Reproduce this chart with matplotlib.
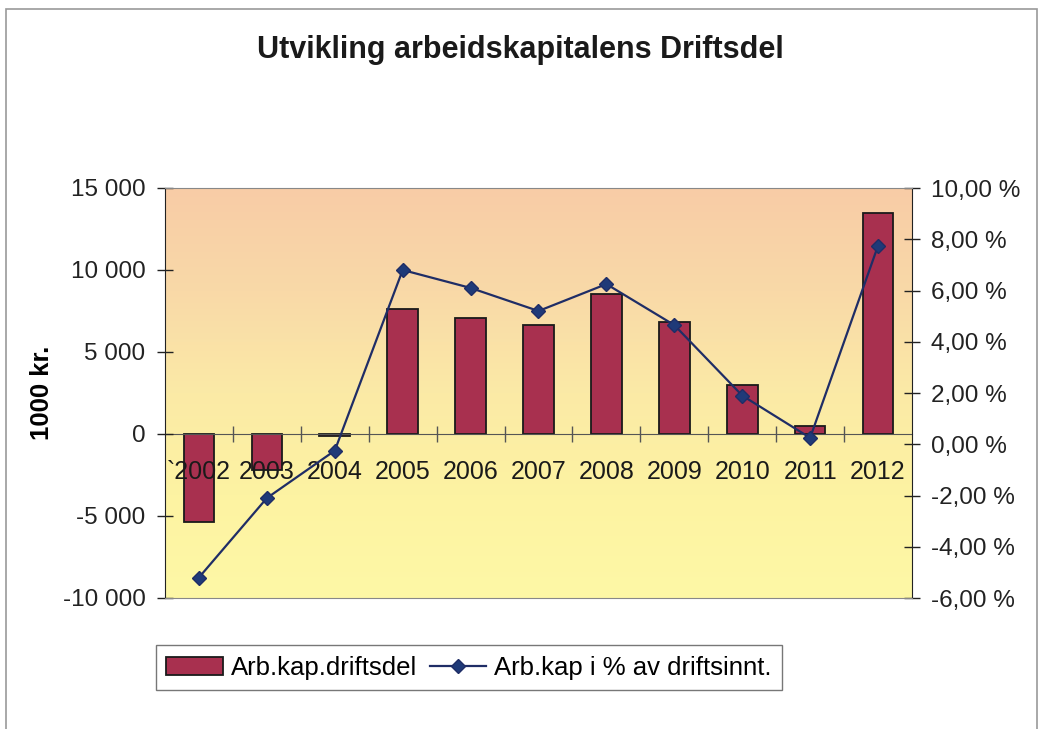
import numpy as np
import matplotlib
matplotlib.use('Agg')
from matplotlib import pyplot as plt
from matplotlib.patches import Rectangle
from matplotlib.lines import Line2D
from matplotlib.colors import LinearSegmentedColormap
from matplotlib.ticker import FuncFormatter

### Data
years = ['`2002', '2003', '2004', '2005', '2006', '2007', '2008', '2009', '2010', '2011', '2012']
arb_kap = [-5350, -2200, -100, 7600, 7100, 6650, 8550, 6850, 3000, 500, 13450]
arb_pct = [-5.2, -2.1, -0.25, 6.8, 6.1, 5.2, 6.25, 4.65, 1.9, 0.25, 7.75]

plt.rcParams['font.family'] = ['Liberation Sans', 'DejaVu Sans']

fig = plt.figure(figsize=(10.41, 7.29), dpi=100)
ax = fig.add_axes([165/1041, 1-598/729, (912-165)/1041, (598-188)/729])
ax2 = ax.twinx()

x = np.arange(len(years))

# Gradient background (peach at top -> yellow at bottom)
cmap = LinearSegmentedColormap.from_list('bg', ['#f8cca6', '#f9d9a8', '#fbeaa6', '#fdf3a2', '#fef8a6'])
grad = np.linspace(0, 1, 256).reshape(-1, 1)
ax.imshow(grad, cmap=cmap, aspect='auto', extent=[-0.5, 10.5, -10000, 15000],
          origin='upper', zorder=0, interpolation='bicubic')

# Bars
ax.bar(x, arb_kap, width=0.45, color='#a8304f', edgecolor='#1a1a1a', linewidth=1.3, zorder=2)
ax.set_axisbelow(False)
ax.set_xlim(-0.5, 10.5)
ax.set_ylim(-10000, 15000)
ax.set_yticks(np.arange(-10000, 15001, 5000))
ax.yaxis.set_major_formatter(FuncFormatter(lambda v, p: '{:,.0f}'.format(v).replace(',', ' ')))
ax.tick_params(axis='y', labelsize=17.5, direction='inout', length=12, width=1, pad=8, colors='#222222')
ax.set_ylabel('1000 kr.', fontsize=18.5, fontweight='bold', labelpad=6)

# Category axis at zero
ax.spines['bottom'].set_position(('data', 0))
ax.spines['bottom'].set_color('#555555')
ax.spines['top'].set_visible(False)
ax.spines['right'].set_visible(False)
ax.spines['left'].set_color('#222222')
ax.set_xticks(x)
ax.set_xticklabels(years)
ax.set_xticks(np.arange(0.5, 10.5, 1), minor=True)
ax.tick_params(axis='x', which='major', length=0, labelsize=18, pad=19, colors='#1a1a1a')
ax.tick_params(axis='x', which='minor', direction='inout', length=11, width=1, color='#555555')

# Line on secondary axis
ax2.plot(x, arb_pct, color='#1f2d66', linewidth=1.6, marker='D', markersize=7,
         markerfacecolor='#1f3a78', markeredgecolor='#1f2d66')
ax2.set_ylim(-6, 10)
ax2.set_yticks(np.arange(-6, 10.1, 2))
ax2.yaxis.set_major_formatter(FuncFormatter(lambda v, p: '{:.2f} %'.format(v).replace('.', ',')))
ax2.tick_params(axis='y', labelsize=17.5, direction='inout', length=12, width=1, pad=8, colors='#222222')
ax2.patch.set_visible(False)
ax2.spines['left'].set_visible(False)
ax2.spines['right'].set_color('#222222')
ax2.spines['top'].set_color('#888888')
ax2.spines['bottom'].set_color('#888888')

fig.text(0.5, 1-50/729, 'Utvikling arbeidskapitalens Driftsdel', ha='center', va='center',
         fontsize=22, fontweight='bold', color='#1a1a1a')

# Legend
handles = [Rectangle((0, 0), 1, 1, facecolor='#a8304f', edgecolor='#1a1a1a', linewidth=1.3),
           Line2D([], [], color='#1f2d66', linewidth=1.6, marker='D', markersize=7,
                  markerfacecolor='#1f3a78')]
leg = fig.legend(handles, ['Arb.kap.driftsdel', 'Arb.kap i % av driftsinnt.'], ncol=2,
                 loc='lower left', bbox_to_anchor=(156/1041, 1-690/729), fontsize=18.5,
                 frameon=True, fancybox=False, edgecolor='#555555', handlelength=2.2,
                 handletextpad=0.3, columnspacing=0.5, borderpad=0.4, borderaxespad=0)
leg.get_frame().set_linewidth(1)

# Chart border
fig.patches.append(Rectangle((6/1041, -0.01), 1-10/1041, 1-9/729 + 0.01, transform=fig.transFigure,
                             fill=False, edgecolor='#999999', linewidth=1.2))

plt.savefig('out.png', dpi=100)
